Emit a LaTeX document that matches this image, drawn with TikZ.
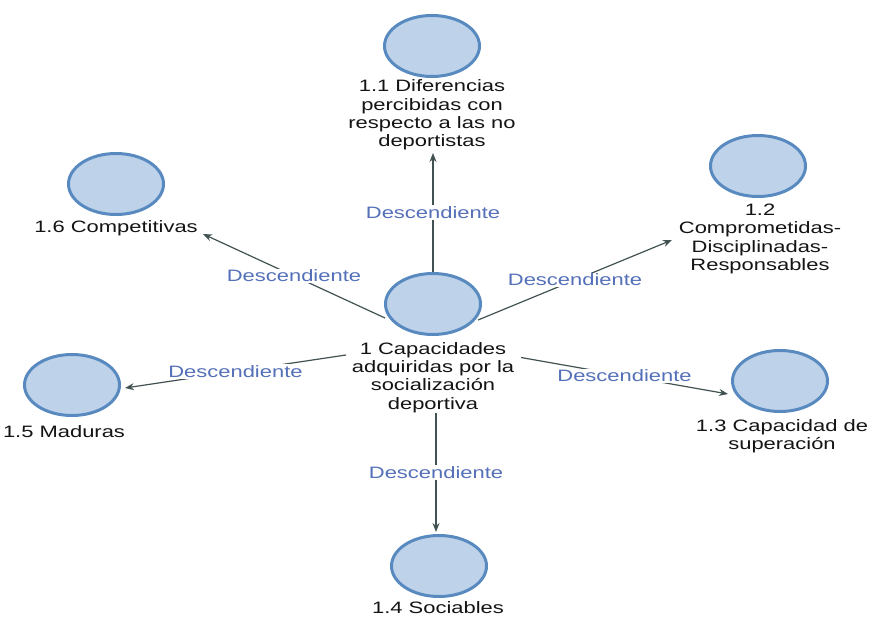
\documentclass[tikz,border=0pt]{standalone}
\usepackage{fontspec}
\setmainfont{Liberation Sans}
\newfontfamily\wfont[FakeStretch=1.33]{Liberation Sans}
\usetikzlibrary{shapes.geometric,arrows.meta}
\definecolor{bubblefill}{RGB}{190,211,234}
\definecolor{bubbleline}{RGB}{88,138,192}
\definecolor{linkcol}{RGB}{66,82,82}
\definecolor{tagcol}{RGB}{84,112,184}
\definecolor{txtcol}{RGB}{20,20,20}
\tikzset{
  bubble/.style={ellipse, draw=bubbleline, fill=bubblefill, line width=3pt,
    minimum width=95pt, minimum height=61pt, inner sep=0pt},
  caption/.style={align=center, inner sep=0pt, text=txtcol,
    font=\wfont\fontsize{16.5pt}{18.3pt}\selectfont},
  link/.style={draw=linkcol, line width=1.2pt,
    -{Stealth[length=9pt,width=7pt]}},
  tag/.style={fill=white, inner sep=1pt, text=tagcol,
    font=\wfont\fontsize{16.5pt}{18pt}\selectfont}
}
\begin{document}
\begin{tikzpicture}[x=1pt,y=-1pt]
\useasboundingbox[fill=white] (0,0) rectangle (872,617);

% central concept
\node[bubble]  (c0) at (433,304) {};
\node[caption] (t0) at (433,377.5) {1 Capacidades\\adquiridas por la\\socialización\\deportiva};

% sub-concepts
\node[bubble]  (c11) at (432,46) {};
\node[caption] (t11) at (432,115) {1.1 Diferencias\\percibidas con\\respecto a las no\\deportistas};

\node[bubble]  (c12) at (758,166) {};
\node[caption] (t12) at (760,239) {1.2\\Comprometidas-\\Disciplinadas-\\Responsables};

\node[bubble]  (c13) at (780,381) {};
\node[caption] (t13) at (782,436) {1.3 Capacidad de\\superación};

\node[bubble]  (c14) at (439,566) {};
\node[caption] (t14) at (438,608) {1.4 Sociables};

\node[bubble]  (c15) at (72,385) {};
\node[caption] (t15) at (64,432) {1.5 Maduras};

\node[bubble]  (c16) at (116,184) {};
\node[caption] (t16) at (116,228) {1.6 Competitivas};

% relations
\draw[link] (c0.north) -- node[tag] {Descendiente} ([shift={(1,38)}]t11.center);
\draw[link] ([shift={(45,16)}]c0.center) -- node[tag] {Descendiente} ([shift={(-88,1)}]t12.center);
\draw[link] ([shift={(88,-20)}]t0.center) -- node[tag] {Descendiente} ([shift={(-52,13)}]c13.center);
\draw[link] ([shift={(3,35.5)}]t0.center) -- node[tag] {Descendiente} ([shift={(-3,-34)}]c14.center);
\draw[link] ([shift={(-87,-22.5)}]t0.center) -- node[tag] {Descendiente} ([shift={(53,3)}]c15.center);
\draw[link] ([shift={(-48,14)}]c0.center) -- node[tag] {Descendiente} ([shift={(87,6)}]t16.center);
\end{tikzpicture}
\end{document}
